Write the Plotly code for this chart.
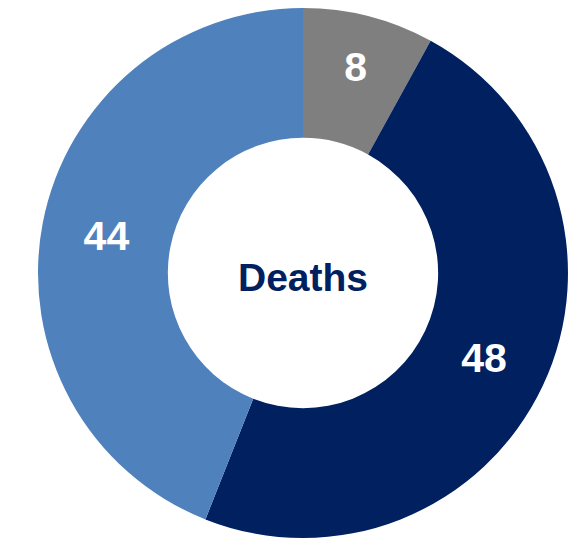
import plotly.graph_objects as go

categories = ["Other", "Category B", "Category A"]
values = [8, 48, 44]
colors = ["#7F7F7F", "#002060", "#4F81BD"]
center_label = "Deaths"

fig = go.Figure(
    go.Pie(
        labels=categories,
        values=values,
        text=[str(v) for v in values],
        textinfo="text",
        textposition="inside",
        insidetextorientation="horizontal",
        textfont=dict(family="Liberation Sans, Arial, sans-serif", size=41, color="white", weight="bold"),
        marker=dict(colors=colors, line=dict(width=0)),
        sort=False,
        direction="clockwise",
        rotation=0,
        hole=0.51,
        domain=dict(x=[0.052, 0.9705], y=[0.0185, 1.0]),
        title=dict(
            text=center_label,
            position="middle center",
            font=dict(family="Liberation Sans, Arial, sans-serif", size=39, color="#002060", weight="bold"),
        ),
        hoverinfo="skip",
    )
)

fig.update_layout(
    width=577,
    height=540,
    margin=dict(l=0, r=0, t=0, b=0),
    showlegend=False,
    paper_bgcolor="white",
    plot_bgcolor="white",
)

fig.write_html("out.html")
